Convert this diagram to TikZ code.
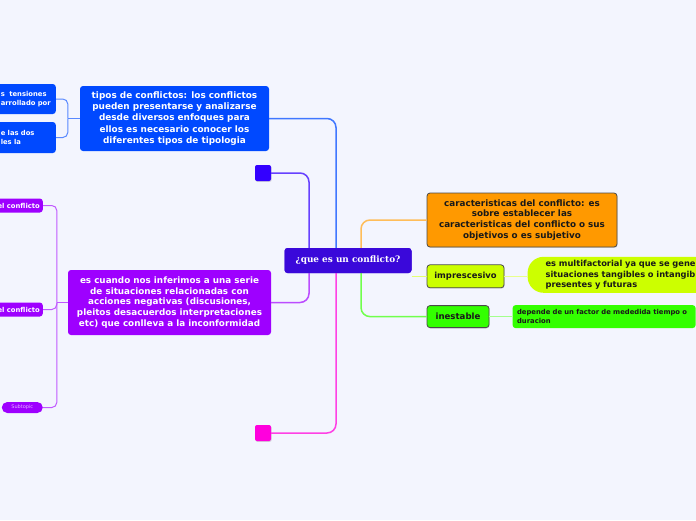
\documentclass[tikz,border=0pt]{standalone}
\usepackage{fontspec}
\usepackage{xcolor}
\usetikzlibrary{positioning,shadows,calc}
\newfontfamily\mmsans{DejaVu Sans}
\newfontfamily\mmserif{DejaVu Serif}

\definecolor{bgpage}{HTML}{F3F5FE}
\definecolor{ctrcol}{HTML}{3A08DA}
\definecolor{bluecol}{HTML}{0049FF}
\definecolor{indcol}{HTML}{3300FF}
\definecolor{purcol}{HTML}{9E00FF}
\definecolor{magcol}{HTML}{FF00DD}
\definecolor{orgcol}{HTML}{FF9900}
\definecolor{ylwcol}{HTML}{CCFF00}
\definecolor{grncol}{HTML}{33FF00}
\definecolor{edgecol}{HTML}{4A4A4A}

\begin{document}
\begin{tikzpicture}[
  x=1pt, y=-1pt,
  topic/.style={rectangle, rounded corners=3pt, text=white, inner sep=2pt,
                align=center, font=\mmsans\bfseries\fontsize{8.9}{11.2}\selectfont},
  framed/.style={draw=edgecol, line width=0.8pt, rounded corners=3pt, text=black!90,
                 drop shadow={shadow xshift=0.6pt, shadow yshift=-0.9pt, opacity=.25}},
  square/.style={rectangle, rounded corners=2pt, minimum size=16pt, inner sep=0pt,
                 drop shadow={shadow xshift=0.6pt, shadow yshift=-0.9pt, opacity=.3}},
  leaf/.style={rectangle, rounded corners=3pt, text=white, inner sep=3pt,
               font=\mmsans\bfseries\fontsize{6.8}{8.6}\selectfont},
  link/.style={line width=1.5pt, rounded corners=9pt},
  twig/.style={line width=1pt, rounded corners=5pt}
]
\useasboundingbox (0,0) rectangle (696,520);
\fill[bgpage] (0,0) rectangle (696,520);
\clip (0,0) rectangle (696,520);

% main topic
\node[topic, fill=ctrcol, minimum width=127pt, minimum height=25pt,
      font=\mmserif\bfseries\fontsize{8.9}{10}\selectfont] (central) at (348,260.5) {¿que es un conflicto?};

% left side
\node[topic, fill=bluecol, minimum width=189pt, minimum height=65pt] (tipos) at (174.5,118.5)
  {tipos de conflictos: los conflictos\\pueden presentarse y analizarse\\desde diversos enfoques para\\ellos es necesario conocer los\\diferentes tipos de tipologia};
\node[square, fill=indcol] (sqind) at (263,173) {};
\node[topic, fill=purcol, minimum width=203pt, minimum height=65pt,
      font=\mmsans\bfseries\fontsize{8.8}{10.7}\selectfont] (infer) at (169.5,302.5)
  {es cuando nos inferimos a una serie\\de situaciones relacionadas con\\acciones negativas (discusiones,\\pleitos desacuerdos interpretaciones\\etc) que conlleva a la inconformidad};
\node[square, fill=magcol] (sqmag) at (263,433) {};

% children of tipos
\node[leaf, fill=bluecol, text width=86pt, align=left, minimum height=30pt, anchor=east] (tens) at (56,99)
  {\hspace*{34pt}s\ \ tensiones\\\hspace*{34pt}arrollado por};
\node[leaf, fill=bluecol, text width=86pt, align=left, minimum height=31pt, anchor=east] (dos) at (56,137.5)
  {\hspace*{34pt}e las dos\\\hspace*{34pt}les la};

% children of infer
\node[leaf, fill=purcol, minimum height=14pt, inner ysep=1pt, anchor=east] (conf1) at (43,205.5) {el conflicto};
\node[leaf, fill=purcol, minimum height=14pt, inner ysep=1pt, anchor=east] (conf2) at (43,309.5) {el conflicto};
\node[leaf, fill=purcol, rounded corners=5.5pt, minimum width=41pt, minimum height=11pt, inner sep=0pt,
      text=purcol!30, font=\mmsans\fontsize{5}{6}\selectfont, anchor=east] (subt) at (43,407.5) {Subtopic};

% right side
\node[topic, framed, fill=orgcol, minimum width=190pt, minimum height=54pt,
      font=\mmsans\bfseries\fontsize{8.8}{10.9}\selectfont] (carac) at (522,220)
  {caracteristicas del conflicto: es\\sobre establecer las\\caracteristicas del conflicto o sus\\objetivos o es subjetivo};
\node[topic, framed, fill=ylwcol, minimum width=77pt, minimum height=23pt,
      font=\mmsans\bfseries\fontsize{8.4}{10}\selectfont,
      below=17pt of carac.south west, anchor=north west] (impr) {imprescesivo};
\node[topic, framed, fill=grncol, minimum width=62pt, minimum height=22pt,
      font=\mmsans\bfseries\fontsize{8.6}{10}\selectfont,
      below=17pt of impr.south west, anchor=north west] (inest) {inestable};
\node[topic, fill=ylwcol, text=black!90, text width=200pt, align=left, minimum height=36pt,
      inner xsep=18pt, rounded corners=16pt, right=23pt of impr, yshift=1.5pt,
      font=\mmsans\bfseries\fontsize{8.3}{10.4}\selectfont] (multi)
  {es multifactorial ya que se gene\\situaciones tangibles o intangib\\presentes y futuras};
\node[leaf, fill=grncol, text=black!90, minimum width=183pt, minimum height=23pt, align=left,
      inner xsep=4.5pt, right=23pt of inest, text width=174pt,
      font=\mmsans\bfseries\fontsize{6.8}{8.4}\selectfont] (depende)
  {depende de un factor de mededida tiempo o\\duracion};

% connectors
\draw[link, bluecol!75] ([xshift=-12pt]central.north) |- (tipos.east);
\draw[link, indcol!75] ([xshift=-39pt]central.north) |- (sqind.east);
\draw[link, purcol!70] ([xshift=-39pt]central.south) |- (infer.east);
\draw[link, magcol!75] ([xshift=-12pt]central.south) |- (sqmag.east);
\draw[link, orgcol!65] ([xshift=13pt]central.north) |- (carac.west);
\draw[link, ylwcol!55!white] (central.east |- impr.west) -- (impr.west);
\draw[link, grncol!70] ([xshift=13pt]central.south) |- (inest.west);
\draw[link, ylwcol!45!white] (impr.east) -- (impr.east -| multi.west);
\draw[link, grncol!45!white] (inest.east) -- (depende.west);

\coordinate (bjoin) at ($(tipos.west)+(-12,0)$);
\draw[twig, bluecol!65] (tipos.west) -- (bjoin);
\draw[twig, bluecol!65] (bjoin) |- (tens.east);
\draw[twig, bluecol!65] (bjoin) |- (dos.east);

\coordinate (pjoin) at ($(infer.west)+(-11,0)$);
\draw[twig, purcol!65] (infer.west) -- (pjoin);
\draw[twig, purcol!65] (pjoin) |- (conf1.east);
\draw[twig, purcol!65] (pjoin) |- (conf2.east);
\draw[twig, purcol!65] (pjoin) |- (subt.east);

% redraw nodes over the connectors
\node[topic, fill=ctrcol, minimum width=127pt, minimum height=25pt,
      font=\mmserif\bfseries\fontsize{8.9}{10}\selectfont] at (central) {¿que es un conflicto?};
\end{tikzpicture}
\end{document}
